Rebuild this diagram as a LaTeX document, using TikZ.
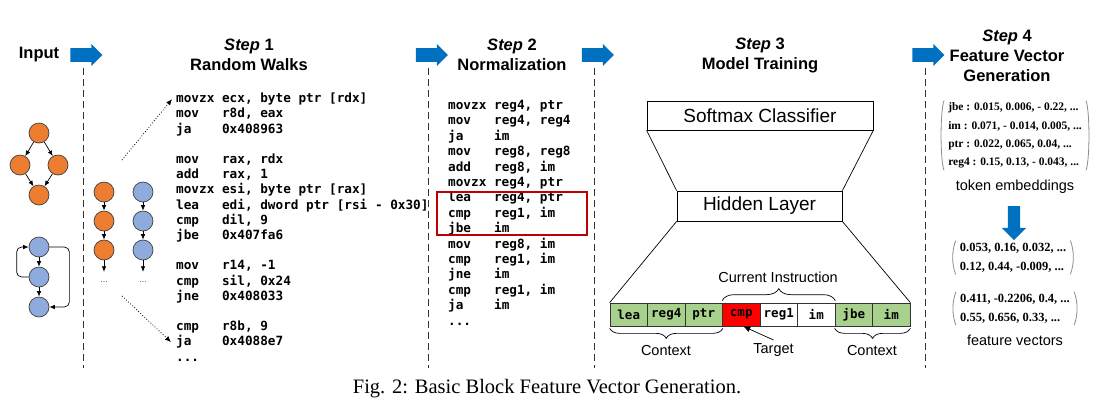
\documentclass[tikz,border=0pt]{standalone}
\usepackage{fontspec}
\setmainfont{Liberation Serif}
\newfontfamily\arialfont{Liberation Sans}
\newfontfamily\codefont{DejaVu Sans Mono}
\usetikzlibrary{arrows.meta,shapes.arrows,decorations.pathreplacing}
\definecolor{arrowblue}{RGB}{0,112,192}
\definecolor{cfgorange}{RGB}{237,125,49}
\definecolor{cfgblue}{RGB}{143,170,220}
\definecolor{ctxgreen}{RGB}{169,209,142}
\definecolor{boxred}{RGB}{192,0,0}
\newcommand{\asm}[2]{\makebox[45.9pt][l]{#1}#2}

\begin{document}
\begin{tikzpicture}[x=1pt, y=-1pt,
    head/.style={font=\arialfont\bfseries\fontsize{16.5}{20}\selectfont, align=center},
    cfgnode/.style={circle, draw=black!75, line width=0.7pt, minimum size=20pt, inner sep=0pt},
    onode/.style={cfgnode, fill=cfgorange},
    bnode/.style={cfgnode, fill=cfgblue},
    cfgedge/.style={-{Latex[length=5.5pt,width=4.5pt]}, line width=0.7pt},
    walk/.style={dotted, -{Latex[length=6pt,width=5pt]}, line width=0.8pt},
    sepline/.style={dash pattern=on 7pt off 4pt, line width=1pt, black!80},
    code/.style={font=\codefont\bfseries\fontsize{12.7}{15}\selectfont, anchor=base west, inner sep=0pt},
    bigarrow/.style={single arrow, fill=arrowblue, inner xsep=0pt, inner ysep=6.75pt,
        single arrow head extend=4.25pt, minimum height=32pt, minimum width=22pt},
    layer/.style={draw, line width=0.7pt, inner sep=0pt, font=\arialfont\fontsize{19}{22}\selectfont},
    tok/.style={draw=black!80, line width=0.7pt, minimum width=37.5pt, minimum height=23pt,
        inner sep=0pt, font=\codefont\bfseries\fontsize{12.5}{14}\selectfont},
    ctx/.style={fill=ctxgreen},
    tgt/.style={fill=red},
    cur/.style={fill=white},
    lbl/.style={font=\arialfont\fontsize{14.5}{17}\selectfont},
    brace/.style={decorate, decoration={brace, amplitude=#1, raise=2pt}, line width=0.7pt},
    vec/.style={align=left, inner xsep=4pt, inner ysep=2pt},
    paren/.style={black!45, line width=0.8pt},
    dots/.style={minimum height=20pt, inner sep=0pt, font=\arialfont\fontsize{9}{9}\selectfont, text=black!65},
    redbox/.style={draw=boxred, line width=1.2pt, minimum width=150pt, minimum height=43pt}]
    \useasboundingbox (0,0) rectangle (1115,416);

    % headings
    \node[head] (hin) at (39,55) {Input};
    \node[head] (h1) at (249,55) {\textit{Step} 1\\Random Walks};
    \node[head] (h2) at (512,55) {\textit{Step} 2\\Normalization};
    \node[head] (h3) at (760,55) {\textit{Step} 3\\Model Training};
    \node[head] (h4) at (1007,56) {\textit{Step} 4\\Feature Vector\\Generation};

    % separators and arrows
    \foreach \x/\n in {83/0, 428.5/1, 594.5/2, 925/3} {
        \draw[sepline] (\x,68) -- (\x,368);
        \node[bigarrow] (a\n) at (\x,55) {};
    }

    % input graphs
    \node[onode] (o1) at (39,133) {};
    \node[onode] (o2) at (20,165) {};
    \node[onode] (o3) at (58,165) {};
    \node[onode] (o4) at (39,195) {};
    \draw[cfgedge] (o1) -- (o2);
    \draw[cfgedge] (o1) -- (o3);
    \draw[cfgedge] (o2) -- (o4);
    \draw[cfgedge] (o3) -- (o4);

    \node[bnode] (b1) at (39,247) {};
    \node[bnode] (b2) at (39,277) {};
    \node[bnode] (b3) at (39,307) {};
    \draw[cfgedge] (b1) -- (b2);
    \draw[cfgedge] (b2) -- (b3);
    \draw[cfgedge, rounded corners=5pt] (b2.west) -- ++(-12,0) |- (b1.west);
    \draw[cfgedge, rounded corners=5pt] (b1.east) -- ++(20,0) |- (b3.east);

    % random walks
    \foreach \y [count=\i] in {192,221,250} {
        \node[onode] (r\i) at (104,\y) {};
        \node[bnode] (s\i) at (143,\y) {};
    }
    \node[dots] (rd) at (104,282) {...};
    \node[dots] (sd) at (143,282) {...};
    \draw[cfgedge] (r1) -- (r2);
    \draw[cfgedge] (r2) -- (r3);
    \draw[cfgedge] (r3) -- (rd);
    \draw[cfgedge] (s1) -- (s2);
    \draw[cfgedge] (s2) -- (s3);
    \draw[cfgedge] (s3) -- (sd);

    % Step 1 code
    \foreach \k/\op/\arg in {0/movzx/{ecx, byte ptr [rdx]}, 1/mov/{r8d, eax}, 2/ja/0x408963,
        4/mov/{rax, rdx}, 5/add/{rax, 1}, 6/movzx/{esi, byte ptr [rax]},
        7/lea/{edi, dword ptr [rsi - 0x30]}, 8/cmp/{dil, 9}, 9/jbe/0x407fa6,
        11/mov/{r14, -1}, 12/cmp/{sil, 0x24}, 13/jne/0x408033,
        15/cmp/{r8b, 9}, 16/ja/0x4088e7}
        \node[code] (c1-\k) at (176,{102.7+15.2*\k}) {\asm{\op}{\arg}};
    \node[code] (c1-17) at (176,{102.7+15.2*17}) {...};

    \coordinate (w1) at (122,160);
    \coordinate (w2) at (122,296);
    \draw[walk] (w1) -- ([xshift=-4pt]c1-0.west);
    \draw[walk] (w2) -- ([xshift=-5pt]c1-16.west);

    % Step 2 code
    \foreach \k/\op/\arg in {0/movzx/{reg4, ptr}, 1/mov/{reg4, reg4}, 2/ja/im,
        3/mov/{reg8, reg8}, 4/add/{reg8, im}, 5/movzx/{reg4, ptr}, 6/lea/{reg4, ptr},
        7/cmp/{reg1, im}, 8/jbe/im, 9/mov/{reg8, im}, 10/cmp/{reg1, im},
        11/jne/im, 12/cmp/{reg1, im}, 13/ja/im}
        \node[code] (c2-\k) at (448,{109.4+15.4*\k}) {\asm{\op}{\arg}};
    \node[code] (c2-14) at (448,{109.4+15.4*14}) {...};
    \node[redbox] (sel) at (512,213.5) {};

    % Step 3 model
    \node[layer, minimum width=226pt, minimum height=29pt] (soft) at (760,115.5) {Softmax Classifier};
    \node[layer, minimum width=165pt, minimum height=30pt] (hid) at (759.5,206) {Hidden Layer};
    \foreach \t/\s [count=\i] in {lea/ctx, reg4/ctx, ptr/ctx, cmp/tgt, reg1/cur, im/cur, jbe/ctx, im/ctx}
        \node[tok, \s] (t\i) at ({610+37.5*(\i-0.5)},314.5) {\t};
    \draw[line width=0.7pt] (soft.south west) -- (hid.north west);
    \draw[line width=0.7pt] (soft.south east) -- (hid.north east);
    \draw[line width=0.7pt] (hid.south west) -- (t1.north west);
    \draw[line width=0.7pt] (hid.south east) -- (t8.north east);

    \draw[brace=12pt] (t4.north west) -- (t6.north east);
    \draw[brace=10pt] (t3.south east) -- (t1.south west);
    \draw[brace=10pt] (t8.south east) -- (t7.south west);
    \node[lbl] (curlab) at (778,277) {Current Instruction};
    \node[lbl] (ctx1) at (666,350) {Context};
    \node[lbl] (ctx2) at (872,350) {Context};
    \node[lbl] (tlab) at (773.5,350) {Target};
    \draw[-{Latex[length=7pt,width=6pt]}, line width=0.7pt] (tlab.north) -- ([xshift=2pt]t4.south);

    % Step 4 vectors
    \node[vec, font=\bfseries\fontsize{11.5}{18.3}\selectfont] (m1) at (1015,135.5)
        {jbe : 0.015, 0.006, - 0.22, ...\\im : 0.071, - 0.014, 0.005, ...\\ptr : 0.022, 0.065, 0.04, ...\\reg4 : 0.15, 0.13, - 0.043, ...};
    \node[lbl] (temb) at (1015,187) {token embeddings};
    \node[single arrow, fill=arrowblue, shape border rotate=270, inner xsep=6pt, inner ysep=6pt,
        single arrow head extend=6pt, minimum height=34pt, minimum width=24pt] (a4) at (1014,220) {};
    \node[vec, font=\bfseries\fontsize{12.5}{19}\selectfont] (m2) at (1013,257.5)
        {0.053, 0.16, 0.032, ...\\0.12, 0.44, -0.009, ...};
    \node[vec, font=\bfseries\fontsize{12.5}{19}\selectfont] (m3) at (1015,308.5)
        {0.411, -0.2206, 0.4, ...\\0.55, 0.656, 0.33, ...};
    \node[lbl] (fvec) at (1015,340) {feature vectors};
    \foreach \m in {m1,m2,m3} {
        \draw[paren] (\m.north west) .. controls +(-4,10) and +(-4,-10) .. (\m.south west);
        \draw[paren] (\m.north east) .. controls +(4,10) and +(4,-10) .. (\m.south east);
    }

    % caption
    \node[font=\fontsize{20.5}{24}\selectfont] (cap) at (547,389) {Fig. 2: Basic Block Feature Vector Generation.};
\end{tikzpicture}
\end{document}
